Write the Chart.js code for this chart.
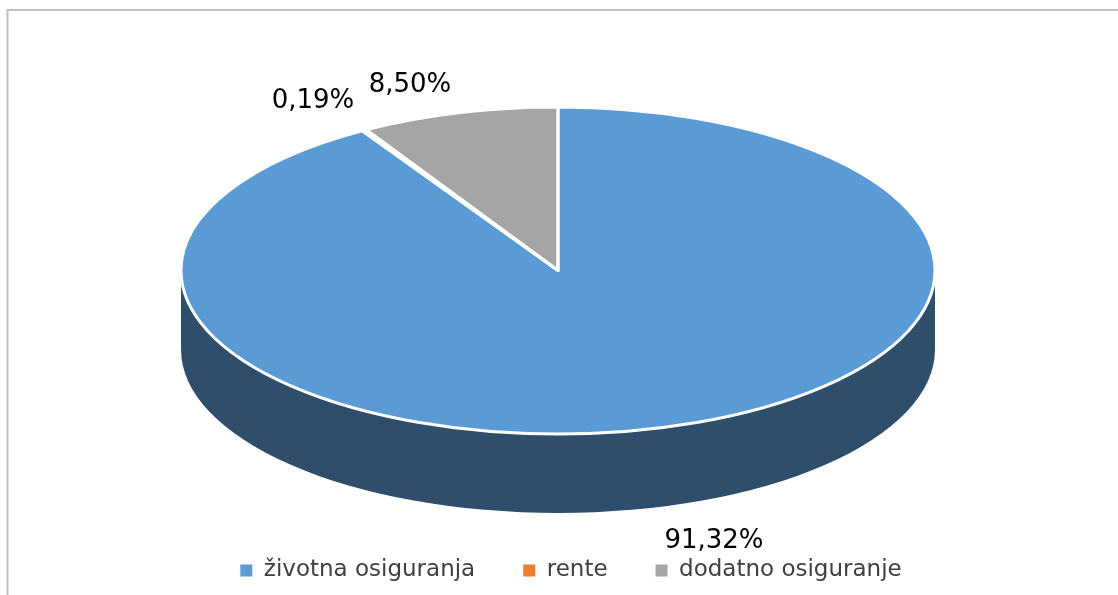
<!DOCTYPE html>
<html>
<head>
<meta charset="utf-8">
<style>html,body{margin:0;padding:0;background:#fff}canvas{display:block}</style>
<script src="https://cdn.jsdelivr.net/npm/chart.js@4"></script>
</head>
<body>
<canvas id="c" width="1118" height="595"></canvas>
<script>
const categories = ['životna osiguranja', 'rente', 'dodatno osiguranje'];
const shares = [91.32, 0.19, 8.50];
const topColors = ['#5B9BD5', '#ED7D31', '#A5A5A5'];
const sideColors = ['#2F4E6C', '#8E4B1D', '#636363'];

// Projected pie geometry (tilted 3D look)
const CX = 558, CY = 270.5, RX = 377, RY = 163.5, DEPTH = 79;
const labelAnchors = [[714, 541.5], [313, 101], [410, 85]];

function project(ctx, arc, dy) {
  ctx.translate(CX, CY + dy);
  ctx.scale(RX / arc.outerRadius, RY / arc.outerRadius);
  ctx.translate(-arc.x, -arc.y);
}

const tilted = {
  id: 'tilted',
  beforeDraw(chart) {
    const ctx = chart.ctx;
    ctx.save();
    ctx.fillStyle = '#fff';
    ctx.fillRect(0, 0, chart.width, chart.height);
    ctx.strokeStyle = '#BFBFBF';
    ctx.lineWidth = 2;
    ctx.beginPath();
    ctx.moveTo(7.5, chart.height);
    ctx.lineTo(7.5, 10);
    ctx.lineTo(chart.width, 10);
    ctx.stroke();
    ctx.restore();
  },
  beforeDatasetsDraw(chart) {
    const ctx = chart.ctx;
    const arcs = chart.getDatasetMeta(0).data;
    arcs.forEach((arc, i) => {
      const a = Math.max(arc.startAngle, 0), b = Math.min(arc.endAngle, Math.PI);
      if (a >= b) return;
      ctx.beginPath();
      ctx.save(); project(ctx, arc, DEPTH); ctx.arc(arc.x, arc.y, arc.outerRadius, a, b); ctx.restore();
      ctx.save(); project(ctx, arc, 0); ctx.arc(arc.x, arc.y, arc.outerRadius, b, a, true); ctx.restore();
      ctx.closePath();
      ctx.fillStyle = sideColors[i];
      ctx.fill();
    });
    ctx.save();
    project(ctx, arcs[0], 0);
  },
  afterDatasetsDraw(chart) {
    const ctx = chart.ctx;
    ctx.restore();
    const arcs = chart.getDatasetMeta(0).data;
    ctx.save();
    ctx.strokeStyle = '#fff';
    ctx.lineWidth = 3;
    ctx.lineJoin = 'round';
    arcs.forEach(arc => {
      ctx.beginPath();
      ctx.save();
      project(ctx, arc, 0);
      ctx.moveTo(arc.x, arc.y);
      ctx.arc(arc.x, arc.y, arc.outerRadius, arc.startAngle, arc.endAngle);
      ctx.closePath();
      ctx.restore();
      ctx.stroke();
    });
    ctx.fillStyle = '#000';
    ctx.font = '26px "DejaVu Sans"';
    ctx.textAlign = 'center';
    ctx.textBaseline = 'middle';
    shares.forEach((v, i) => {
      ctx.fillText(v.toFixed(2).replace('.', ',') + '%', labelAnchors[i][0], labelAnchors[i][1]);
    });
    ctx.restore();
  }
};

new Chart(document.getElementById('c'), {
  type: 'pie',
  data: {
    labels: categories,
    datasets: [{ data: shares, backgroundColor: topColors, borderWidth: 0, clip: false }]
  },
  options: {
    responsive: false,
    animation: false,
    events: [],
    layout: { padding: { left: 24, bottom: 3 } },
    plugins: {
      tooltip: { enabled: false },
      legend: {
        position: 'bottom',
        labels: {
          boxWidth: 12,
          boxHeight: 12,
          padding: 48,
          color: '#404040',
          font: { family: '"DejaVu Sans"', size: 23 }
        }
      }
    }
  },
  plugins: [tilted]
});
</script>
</body>
</html>
